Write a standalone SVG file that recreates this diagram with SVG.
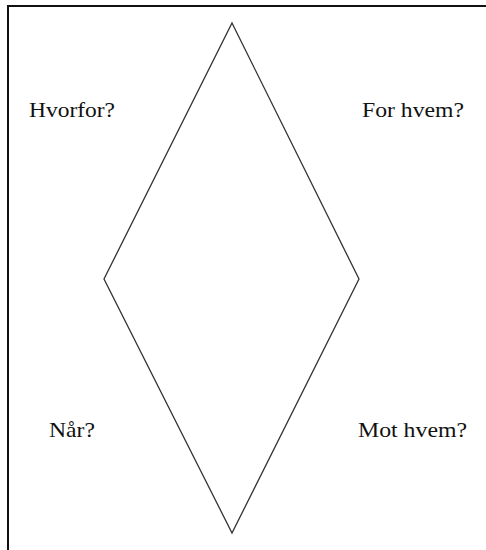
<svg xmlns="http://www.w3.org/2000/svg" width="486" height="550" viewBox="0 0 486 550">
<style>
.lbl{font-family:"Liberation Serif","Times New Roman",serif;font-size:21px;fill:#111}
.frame{fill:none;stroke:#111;stroke-width:2}
.shape{fill:none;stroke:#333;stroke-width:1.3;stroke-linejoin:miter}
</style>
<rect width="486" height="550" fill="#fff"/>
<path class="frame" d="M8,550 V6 H486"/>
<g id="diamond">
<polygon class="shape" points="232,23 359,279 232,533 104,279"/>
</g>
<g id="hvorfor"><text class="lbl" x="29" y="117" textLength="86" lengthAdjust="spacingAndGlyphs">Hvorfor?</text></g>
<g id="forhvem"><text class="lbl" x="362" y="117" textLength="102" lengthAdjust="spacingAndGlyphs">For hvem?</text></g>
<g id="naar"><text class="lbl" x="49" y="437" textLength="46" lengthAdjust="spacingAndGlyphs">Når?</text></g>
<g id="mothvem"><text class="lbl" x="358" y="437" textLength="109" lengthAdjust="spacingAndGlyphs">Mot hvem?</text></g>
<g id="connectors"></g>
</svg>
